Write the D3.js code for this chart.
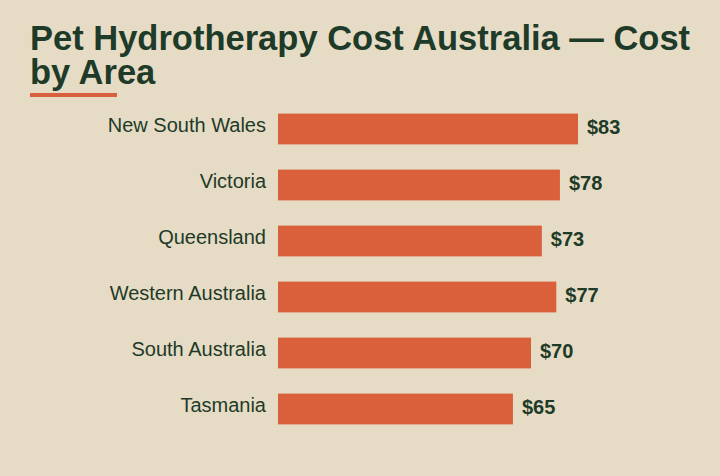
<!DOCTYPE html>
<html><head><meta charset="utf-8">
<script src="https://cdn.jsdelivr.net/npm/d3@7"></script>
<style>body{margin:0;background:#e6dcc5;}svg{display:block;font-family:"Liberation Sans",Arial,sans-serif;}</style>
</head><body><svg id="c" width="720" height="476"></svg>
<script>
const categories=["New South Wales","Victoria","Queensland","Western Australia","South Australia","Tasmania"];
const values=[83,78,73,77,70,65];
const svg=d3.select("#c");
svg.append("rect").attr("width",720).attr("height",476).attr("fill","#e6dcc5");
const dark="#1e3a28", orange="#d9603b";
svg.append("text").attr("x",30).attr("y",50).attr("font-size",34.5).attr("font-weight","bold").attr("fill",dark).text("Pet Hydrotherapy Cost Australia — Cost");
svg.append("text").attr("x",30).attr("y",84).attr("font-size",34.5).attr("font-weight","bold").attr("fill",dark).text("by Area");
svg.append("rect").attr("x",30).attr("y",93).attr("width",87).attr("height",4).attr("fill",orange);
const x=d3.scaleLinear().domain([0,83]).range([278,578]);
const y=d3.scaleBand().domain(categories).range([101,437]).paddingInner(0.45).paddingOuter(0.225);
const g=svg.append("g");
categories.forEach((c,i)=>{
  const v=values[i];
  g.append("rect").attr("x",x(0)).attr("y",y(c)).attr("width",x(v)-x(0)).attr("height",y.bandwidth()).attr("fill",orange);
  g.append("text").attr("x",266).attr("y",y(c)+y.bandwidth()/2-2).attr("text-anchor","end").attr("dominant-baseline","middle").attr("font-size",20).attr("fill",dark).text(c);
  g.append("text").attr("x",x(v)+9).attr("y",y(c)+y.bandwidth()/2).attr("dominant-baseline","middle").attr("font-size",20).attr("font-weight","bold").attr("fill",dark).text("$"+v);
});
</script></body></html>
